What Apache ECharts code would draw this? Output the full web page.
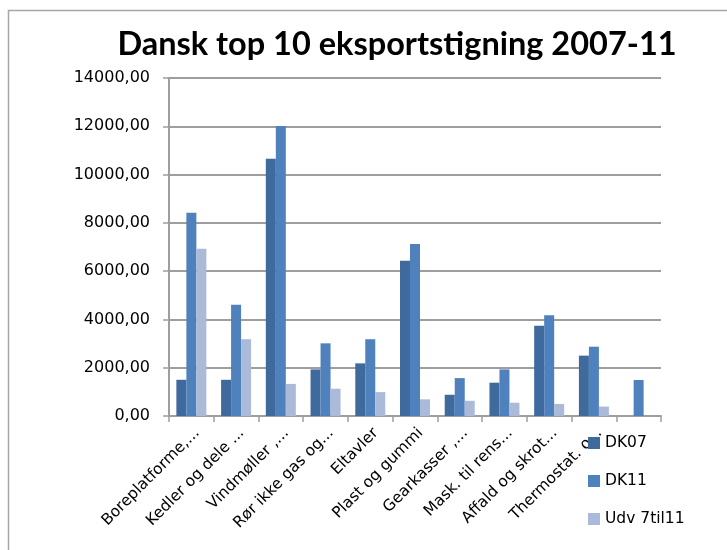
<!DOCTYPE html>
<html>
<head>
<meta charset="utf-8">
<script src="https://cdn.jsdelivr.net/npm/echarts@6/dist/echarts.min.js"></script>
<style>
html,body{margin:0;padding:0;background:#fff;}
#c{width:727px;height:550px;}
</style>
</head>
<body>
<div id="c"></div>
<script>
const categories = ['Boreplatforme,...', 'Kedler og dele ...', 'Vindmøller ,...', 'Rør ikke gas og...', 'Eltavler', 'Plast og gummi', 'Gearkasser ,...', 'Mask. til rens...', 'Affald og skrot...', 'Thermostat. o...', ''];
const dk07 = [1500, 1500, 10660, 1930, 2180, 6430, 880, 1380, 3740, 2500, null];
const dk11 = [8420, 4610, 12010, 3010, 3180, 7120, 1570, 1930, 4170, 2870, 1490];
const udv = [6930, 3180, 1330, 1130, 990, 690, 630, 550, 500, 390, null];
const seriesNames = ['DK07', 'DK11', 'Udv 7til11'];
const yMin = 0, yMax = 14000, yStep = 2000;

const titleFont = 'Lato, "Liberation Sans", sans-serif';
const font = '"DejaVu Sans", Verdana, sans-serif';
const gridColor = '#9e9e9e';
const chart = echarts.init(document.getElementById('c'));
chart.setOption({
  animation: false,
  backgroundColor: '#fff',
  title: {
    text: 'Dansk top 10 eksportstigning 2007-11',
    left: 392, top: 23, textAlign: 'center',
    textStyle: {fontFamily: titleFont, fontWeight: 'bold', fontSize: 32.5, color: '#000'}
  },
  graphic: [{
    type: 'rect', shape: {x: 8.5, y: 10.5, width: 760, height: 600},
    style: {fill: 'none', stroke: '#a6a6a6', lineWidth: 1.5}, silent: true, z: -1
  }],
  legend: {
    orient: 'vertical', left: 583, top: 430,
    itemWidth: 12, itemHeight: 12, itemGap: 22,
    icon: 'rect',
    textStyle: {fontFamily: font, fontSize: 15.5, color: '#000'},
    data: seriesNames
  },
  grid: {left: 169, right: 66, top: 78, bottom: 134, containLabel: false},
  xAxis: {
    type: 'category', data: categories,
    axisLine: {lineStyle: {color: gridColor, width: 2}},
    axisTick: {show: true, length: 6, lineStyle: {color: gridColor, width: 1.5}},
    axisLabel: {rotate: 45, interval: 0, margin: 9, verticalAlign: 'top', fontFamily: font, fontSize: 15.5, color: '#000'}
  },
  yAxis: {
    type: 'value', min: yMin, max: yMax, interval: yStep,
    axisLine: {show: true, lineStyle: {color: gridColor, width: 2}},
    axisTick: {show: true, length: 6, lineStyle: {color: gridColor, width: 1.5}},
    splitLine: {lineStyle: {color: gridColor, width: 2}},
    axisLabel: {margin: 19, fontFamily: font, fontSize: 16, color: '#000',
      formatter: v => v.toFixed(2).replace('.', ',')}
  },
  series: [
    {name: seriesNames[0], type: 'bar', data: dk07, barWidth: 10, barGap: '0%', itemStyle: {color: '#3F6A9D'}},
    {name: seriesNames[1], type: 'bar', data: dk11, barWidth: 10, barGap: '0%', itemStyle: {color: '#4F81BD'}},
    {name: seriesNames[2], type: 'bar', data: udv, barWidth: 10, barGap: '0%', itemStyle: {color: '#AABAD8'}}
  ]
});
</script>
</body>
</html>
